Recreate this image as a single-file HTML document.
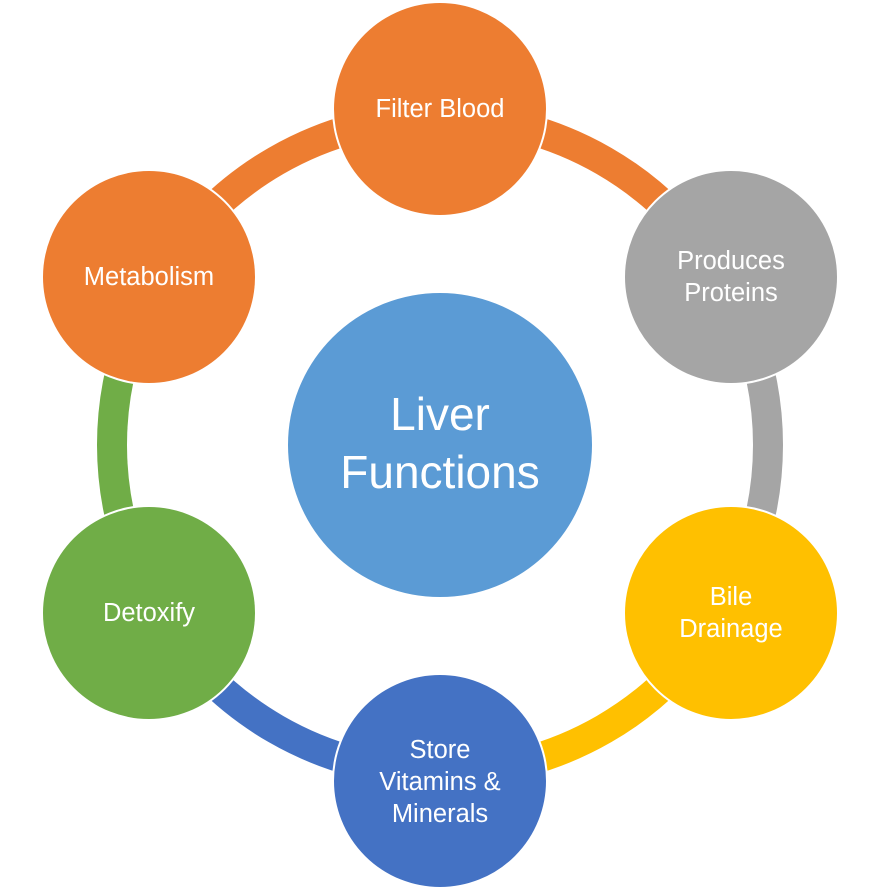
<!DOCTYPE html>
<html>
<head>
<meta charset="utf-8">
<style>
  html, body { margin: 0; padding: 0; background: #ffffff; }
  body { width: 880px; height: 891px; overflow: hidden; }
  svg { display: block; }
  text { font-family: "Liberation Sans", "DejaVu Sans", sans-serif; fill: #ffffff; text-anchor: middle; }
</style>
</head>
<body>
<svg width="880" height="891" viewBox="0 0 880 891" xmlns="http://www.w3.org/2000/svg">
  <!-- ring arcs -->
  <g fill="none" stroke-width="30" stroke-linecap="butt">
    <path d="M440 117 A328 328 0 0 1 724.06 281" stroke="#ED7D31"/>
    <path d="M724.06 281 A328 328 0 0 1 724.06 609" stroke="#A5A5A5"/>
    <path d="M724.06 609 A328 328 0 0 1 440 773" stroke="#FFC000"/>
    <path d="M440 773 A328 328 0 0 1 155.94 609" stroke="#4472C4"/>
    <path d="M155.94 609 A328 328 0 0 1 155.94 281" stroke="#70AD47"/>
    <path d="M155.94 281 A328 328 0 0 1 440 117" stroke="#ED7D31"/>
  </g>

  <!-- center -->
  <circle cx="440" cy="445" r="153" fill="#5B9BD5" stroke="#ffffff" stroke-width="2"/>
  <text x="440" y="430" font-size="46">Liver</text>
  <text x="440" y="488" font-size="46">Functions</text>

  <!-- outer nodes -->
  <g stroke="#ffffff" stroke-width="2">
    <circle cx="440" cy="109" r="107" fill="#ED7D31"/>
    <circle cx="731" cy="277" r="107" fill="#A5A5A5"/>
    <circle cx="731" cy="613" r="107" fill="#FFC000"/>
    <circle cx="440" cy="781" r="107" fill="#4472C4"/>
    <circle cx="149" cy="613" r="107" fill="#70AD47"/>
    <circle cx="149" cy="277" r="107" fill="#ED7D31"/>
  </g>

  <g font-size="25.5">
    <text x="440" y="117">Filter Blood</text>

    <text x="731" y="269">Produces</text>
    <text x="731" y="301">Proteins</text>

    <text x="731" y="605">Bile</text>
    <text x="731" y="637">Drainage</text>

    <text x="440" y="758">Store</text>
    <text x="440" y="790">Vitamins &amp;</text>
    <text x="440" y="822">Minerals</text>

    <text x="149" y="621">Detoxify</text>

    <text x="149" y="285">Metabolism</text>
  </g>
</svg>
</body>
</html>
